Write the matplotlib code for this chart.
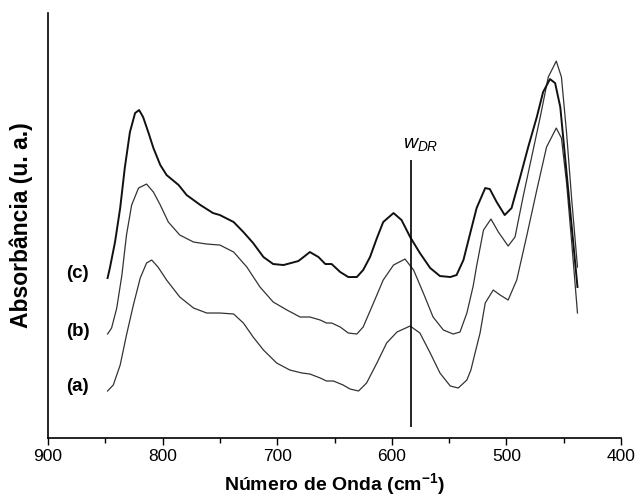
import matplotlib
matplotlib.use("Agg")
import matplotlib.pyplot as plt

plt.rcParams['font.family'] = ['Liberation Sans', 'DejaVu Sans']
plt.rcParams['mathtext.fontset'] = 'custom'
plt.rcParams['mathtext.it'] = 'Liberation Sans:italic'
plt.rcParams['mathtext.rm'] = 'Liberation Sans'
plt.rcParams['mathtext.bf'] = 'Liberation Sans:bold'

# espectro (c)
onda_c = [848, 846, 841.5, 837, 833, 828.5, 824, 820.5, 817, 812.5, 808, 802, 796.5, 786,
          779, 767, 756, 750, 738, 729.5, 721, 712, 703.5, 694.5, 681.5, 677, 671.5, 664,
          658, 652.5, 645, 638, 630.5, 625, 619, 613, 607.5, 598.5, 591.5, 584, 575.5, 566.5,
          558, 549, 543.5, 537.5, 532, 526, 518.5, 514.5, 508.5, 501.5, 495.5, 488, 481,
          473.5, 468, 462, 457.5, 453, 447.5, 443, 438]
abs_c = [1.60, 1.70, 1.96, 2.30, 2.70, 3.06, 3.25, 3.28, 3.21, 3.06, 2.90, 2.73, 2.63, 2.53,
         2.43, 2.33, 2.25, 2.23, 2.16, 2.06, 1.95, 1.81, 1.74, 1.73, 1.77, 1.81, 1.86, 1.81,
         1.74, 1.74, 1.66, 1.61, 1.61, 1.68, 1.81, 2.00, 2.16, 2.25, 2.18, 2.01, 1.85, 1.70,
         1.62, 1.61, 1.63, 1.78, 2.03, 2.30, 2.50, 2.49, 2.36, 2.23, 2.30, 2.61, 2.91,
         3.21, 3.46, 3.59, 3.55, 3.31, 2.65, 2.11, 1.51]

# espectro (b)
onda_b = [848, 844.5, 840, 835.5, 831.5, 827, 821, 814, 808, 802, 795, 785, 773, 761.5, 750,
          738, 726.5, 715, 703.5, 691.5, 680, 671.5, 662.5, 657, 652.5, 645, 638, 630.5, 625,
          616, 607.5, 598.5, 588.5, 581, 572.5, 564, 555, 546.5, 540.5, 534.5, 529, 526, 520,
          513.5, 507, 498.5, 492.5, 485.5, 478, 470.5, 463.5, 456.5, 452, 447.5, 443, 438]
abs_b = [1.04, 1.10, 1.30, 1.63, 2.03, 2.33, 2.50, 2.54, 2.46, 2.33, 2.16, 2.03, 1.96, 1.94,
         1.93, 1.86, 1.71, 1.51, 1.36, 1.28, 1.21, 1.21, 1.18, 1.15, 1.15, 1.11, 1.05, 1.04,
         1.11, 1.35, 1.58, 1.73, 1.79, 1.68, 1.45, 1.21, 1.08, 1.04, 1.06, 1.25, 1.52, 1.72,
         2.08, 2.19, 2.06, 1.92, 2.01, 2.41, 2.81, 3.21, 3.61, 3.77, 3.61, 3.05, 2.38, 1.71]

# espectro (a)
onda_a = [848, 843, 837, 831.5, 825.5, 819.5, 814, 809.5, 804, 796.5, 785, 773, 761.5, 750,
          738, 729.5, 721, 712, 700.5, 689, 678.5, 671.5, 662.5, 657, 651, 642.5, 636.5, 629,
          622, 613, 604.5, 595.5, 584, 575.5, 566.5, 558, 549, 542, 534.5, 531, 528, 523,
          518.5, 511.5, 505.5, 498.5, 491, 482.5, 473.5, 465, 456.5, 452, 447.5, 443, 438]
abs_a = [0.47, 0.53, 0.73, 1.03, 1.33, 1.60, 1.75, 1.78, 1.71, 1.58, 1.41, 1.30, 1.25, 1.25,
         1.24, 1.15, 1.01, 0.88, 0.75, 0.68, 0.65, 0.64, 0.60, 0.57, 0.57, 0.53, 0.49, 0.47,
         0.55, 0.75, 0.95, 1.06, 1.12, 1.05, 0.85, 0.65, 0.52, 0.50, 0.58, 0.68, 0.82, 1.05,
         1.35, 1.48, 1.43, 1.38, 1.58, 2.01, 2.48, 2.91, 3.10, 3.00, 2.55, 1.95, 1.25]

rotulos = ['(a)', '(b)', '(c)']
rotulo_y = [0.51, 1.07, 1.65]
w_dr = 583.5

fig = plt.figure(figsize=(6.38, 5.04), dpi=100)
ax = fig.add_axes([0.0752, 0.131, 0.8982, 0.843])

ax.plot(onda_a, abs_a, color='#333333', lw=0.9, solid_joinstyle='round')
ax.plot(onda_b, abs_b, color='#333333', lw=0.9, solid_joinstyle='round')
ax.plot(onda_c, abs_c, color='#111111', lw=1.4, solid_joinstyle='round')

ax.vlines(w_dr, 0.11, 2.78, color='black', lw=1.2)
ax.text(590, 2.85, r'$w_{DR}$', fontsize=14, ha='left', va='bottom')

for r, y in zip(rotulos, rotulo_y):
    ax.text(874, y, r, fontsize=13.5, fontweight='bold', ha='center', va='center')

ax.set_xlim(900, 400)
ax.set_ylim(0, 4.25)
ax.set_xticks([900, 800, 700, 600, 500, 400])
ax.set_xticks([850, 750, 650, 550, 450], minor=True)
ax.set_yticks([])
ax.tick_params(axis='x', which='major', direction='out', length=5, width=1, labelsize=12.5, pad=3)
ax.tick_params(axis='x', which='minor', direction='out', length=3.5, width=1)
ax.spines['top'].set_visible(False)
ax.spines['right'].set_visible(False)
ax.spines['left'].set_linewidth(1.2)
ax.spines['bottom'].set_linewidth(1.2)

ax.set_xlabel('Número de Onda (cm$^{\\mathbf{-1}}$)', fontsize=14, fontweight='bold', labelpad=5)
ax.set_ylabel('Absorbância (u. a.)', fontsize=16.5, fontweight='bold', labelpad=11)

fig.savefig('out.png', dpi=100)
